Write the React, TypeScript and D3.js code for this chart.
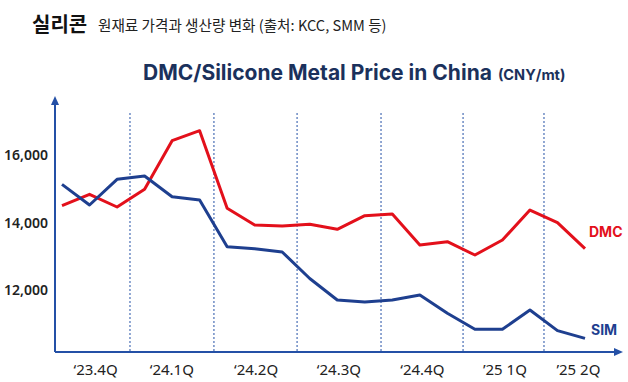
import React from "react";
import * as d3 from "d3";

const simValues = [15131, 14519, 15279, 15378, 14765, 14667, 13284, 13225, 13126, 12340, 11704, 11644, 11704, 11852, 11309, 10835, 10835, 11407, 10795, 10568];
const dmcValues = [14498, 14835, 14459, 14983, 16424, 16720, 14420, 13926, 13896, 13946, 13798, 14202, 14252, 13333, 13432, 13037, 13481, 14370, 13995, 13225];
const quarterLabels = ["‘23.4Q", "‘24.1Q", "‘24.2Q", "‘24.3Q", "‘24.4Q", "’25 1Q", "’25 2Q"];
const quarterLabelPos = [1.22, 3.99, 7.05, 10.06, 13.09, 16.09, 18.76];
const dividerPos = [2.47, 5.52, 8.54, 11.59, 14.57, 17.51];
const yTicks = [12000, 14000, 16000];

const RED = "#e3101b";
const BLUE = "#1e3f8f";
const AXIS = "#2450a6";

export default function App() {
  const W = 628, H = 382;
  const x = d3.scaleLinear().domain([0, simValues.length - 1]).range([62, 585]);
  const y = d3.scaleLinear().domain([12000, 16000]).range([290, 155]);
  const line = d3.line<number>().x((_, i) => x(i)).y((d) => y(d));
  const axisX = 55, axisY = 352;
  const fmt = d3.format(",");
  return (
    <svg width={W} height={H} style={{ position: "fixed", left: 0, top: 0, background: "#fff" }}>
      <text x={32} y={32} fontFamily="'Noto Sans CJK KR'" fontWeight={700} fontSize={20} fill="#111">실리콘</text>
      <text x={98} y={31} fontFamily="'Noto Sans CJK KR'" fontSize={14.6} fill="#222">원재료 가격과 생산량 변화 (출처: KCC, SMM 등)</text>
      <text x={143} y={80} fontFamily="Inter" fontWeight={700} fontSize={21} fill="#1b315c">
        DMC/Silicone Metal Price in China
        <tspan dx={6} fontSize={14.5}>(CNY/mt)</tspan>
      </text>
      {dividerPos.map((d, i) => (
        <line key={i} x1={x(d)} x2={x(d)} y1={113} y2={axisY} stroke={AXIS} strokeWidth={1} strokeDasharray="2,2" />
      ))}
      <line x1={axisX} x2={axisX} y1={axisY} y2={104} stroke={AXIS} strokeWidth={2} />
      <path d={`M${axisX - 4},${105} L${axisX},${96} L${axisX + 4},${105} Z`} fill={AXIS} />
      <line x1={axisX} x2={616} y1={axisY} y2={axisY} stroke={AXIS} strokeWidth={2} />
      <path d={`M${614},${axisY - 4} L${623},${axisY} L${614},${axisY + 4} Z`} fill={AXIS} />
      {yTicks.map((t) => (
        <text key={t} x={48} y={y(t) + 5} textAnchor="end" fontFamily="'Noto Sans'" fontWeight={600} fontSize={14} fill="#222">{fmt(t)}</text>
      ))}
      {quarterLabels.map((l, i) => (
        <text key={l} x={x(quarterLabelPos[i])} y={375} textAnchor="middle" fontFamily="'Noto Sans'" fontSize={15} fill="#222">{l}</text>
      ))}
      <path d={line(dmcValues) || ""} fill="none" stroke={RED} strokeWidth={3} strokeLinejoin="round" />
      <path d={line(simValues) || ""} fill="none" stroke={BLUE} strokeWidth={3} strokeLinejoin="round" />
      <text x={589} y={237} fontFamily="Inter" fontWeight={700} fontSize={14} fill={RED}>DMC</text>
      <text x={591} y={335} fontFamily="Inter" fontWeight={700} fontSize={14} fill={BLUE}>SIM</text>
    </svg>
  );
}
